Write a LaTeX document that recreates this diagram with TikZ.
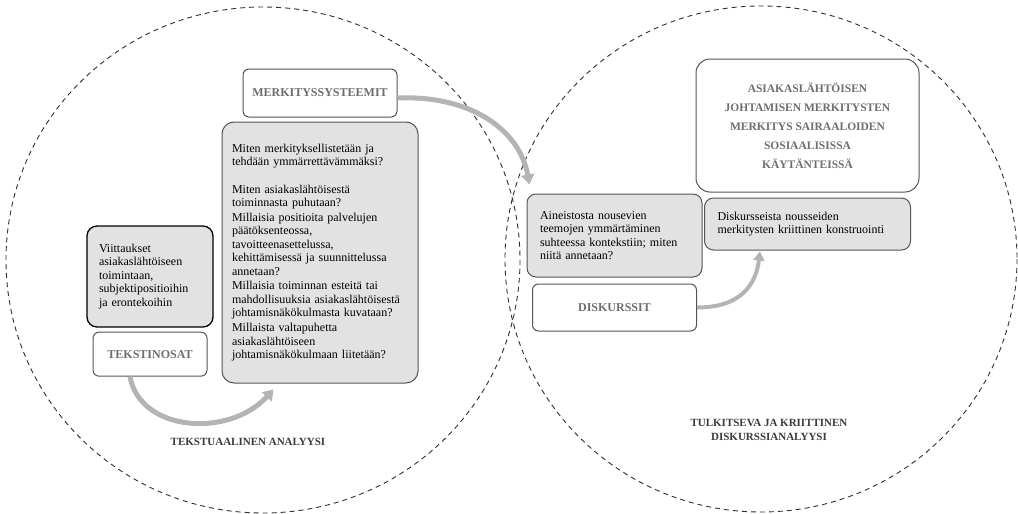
\documentclass[tikz,border=0pt]{standalone}
\usepackage{fontspec}
\setmainfont{Liberation Serif}
\usetikzlibrary{arrows.meta,positioning}

\definecolor{boxgray}{HTML}{E2E2E2}
\definecolor{edgegray}{HTML}{555555}
\definecolor{titlegray}{HTML}{6E6E6E}
\definecolor{headgray}{HTML}{3A3A3A}
\definecolor{arrowgray}{HTML}{B4B4B4}
\definecolor{dashgray}{HTML}{303030}

\begin{document}
\begin{tikzpicture}[x=1pt,y=-1pt,>={Triangle[width=13pt,length=10pt]}]
	\tikzstyle{qbox} = [draw=edgegray, fill=boxgray, rounded corners=12pt, line width=1pt, align=left, inner xsep=13pt, inner ysep=4pt, font=\fontsize{12}{13.4}\selectfont, text=black]
	\tikzstyle{tbox} = [draw=edgegray, fill=white, rounded corners=6pt, line width=1pt, align=center, font=\fontsize{12}{13}\selectfont\bfseries, text=titlegray]
	\tikzstyle{heading} = [align=center, font=\fontsize{11}{13.5}\selectfont\bfseries, text=headgray]
	\tikzstyle{flow} = [line width=5pt, draw=arrowgray, ->]
	\tikzstyle{ring} = [draw=dashgray, line width=0.9pt, dash pattern=on 5pt off 4pt]

	\useasboundingbox (0,0) rectangle (1018,514);

	% the two analysis circles
	\draw [ring] (263,260) ellipse [x radius=257, y radius=253];
	\draw [ring] (761,259) ellipse [x radius=256, y radius=253];

	% left circle
	\node [qbox, draw=black, line width=1.3pt, rounded corners=10pt, text width=102pt, minimum width=126pt, minimum height=101pt, inner xsep=12pt] (viit) at (150,276.5)
		{Viittaukset\\ asiakaslähtöiseen\\ toimintaan,\\ subjektipositioihin\\ ja erontekoihin\\[8pt]};
	\node [tbox, minimum width=114pt, minimum height=44pt, below = 4pt of viit] (tekst) {TEKSTINOSAT};

	\node [tbox, minimum width=154pt, minimum height=48pt] (merk) at (320,93) {MERKITYSSYSTEEMIT};
	\node [qbox, inner xsep=10pt, text width=176pt, minimum width=194pt, minimum height=261pt, below = 4pt of merk] (kysy)
		{Miten merkityksellistetään ja\\ tehdään ymmärrettävämmäksi?\\[14pt]
		Miten asiakaslähtöisestä\\ toiminnasta puhutaan?\\[1.5pt]
		Millaisia positioita palvelujen\\ päätöksenteossa,\\ tavoitteenasettelussa,\\ kehittämisessä ja suunnittelussa\\ annetaan?\\[1.5pt]
		Millaisia toiminnan esteitä tai\\ mahdollisuuksia asiakaslähtöisestä\\ johtamisnäkökulmasta kuvataan?\\[1.5pt]
		Millaista valtapuhetta\\ asiakaslähtöiseen\\ johtamisnäkökulmaan liitetään?\\[10pt]};

	\node [heading] (tekstlabel) at (248,442) {TEKSTUAALINEN ANALYYSI};

	% right circle
	\node [qbox, rounded corners=9pt, text width=149pt, minimum width=175pt, minimum height=83pt] (aine) at (614.5,235.5)
		{Aineistosta nousevien\\ teemojen ymmärtäminen\\ suhteessa kontekstiin; miten\\ niitä annetaan?\\[4pt]};
	\node [tbox, minimum width=164pt, minimum height=47pt, below = 6pt of aine] (disk) {DISKURSSIT};

	\node [tbox, rounded corners=14pt, minimum width=223pt, minimum height=133pt, font=\fontsize{11.5}{19}\selectfont\bfseries] (asia) at (807.5,125.5)
		{ASIAKASLÄHTÖISEN\\ JOHTAMISEN MERKITYSTEN\\ MERKITYS SAIRAALOIDEN\\ SOSIAALISISSA\\ KÄYTÄNTEISSÄ};
	\node [qbox, rounded corners=9pt, text width=180pt, minimum width=206pt, minimum height=52pt, below = 5pt of asia] (diskm)
		{Diskursseista nousseiden\\ merkitysten kriittinen konstruointi\\[8pt]};

	\node [heading] (tulklabel) at (769,430) {TULKITSEVA JA KRIITTINEN\\ DISKURSSIANALYYSI};

	% arrow ends
	\coordinate (k1) at ([shift={(52,6)}]kysy.south west);
	\coordinate (k2) at ([shift={(3,-9)}]aine.north west);
	\coordinate (k3) at ([shift={(56,1)}]diskm.south west);

	\draw [flow] ([xshift=-20pt]tekst.south) .. controls +(10,55) and +(-45,49) .. (k1);
	\draw [flow] ([yshift=-5pt]merk.east) .. controls +(73,-3) and +(-10,-55) .. (k2);
	\draw [flow, line width=4pt, -{Triangle[width=11pt,length=9pt]}] (disk.east) .. controls +(45,0) and +(-4,32) .. (k3);
\end{tikzpicture}
\end{document}
